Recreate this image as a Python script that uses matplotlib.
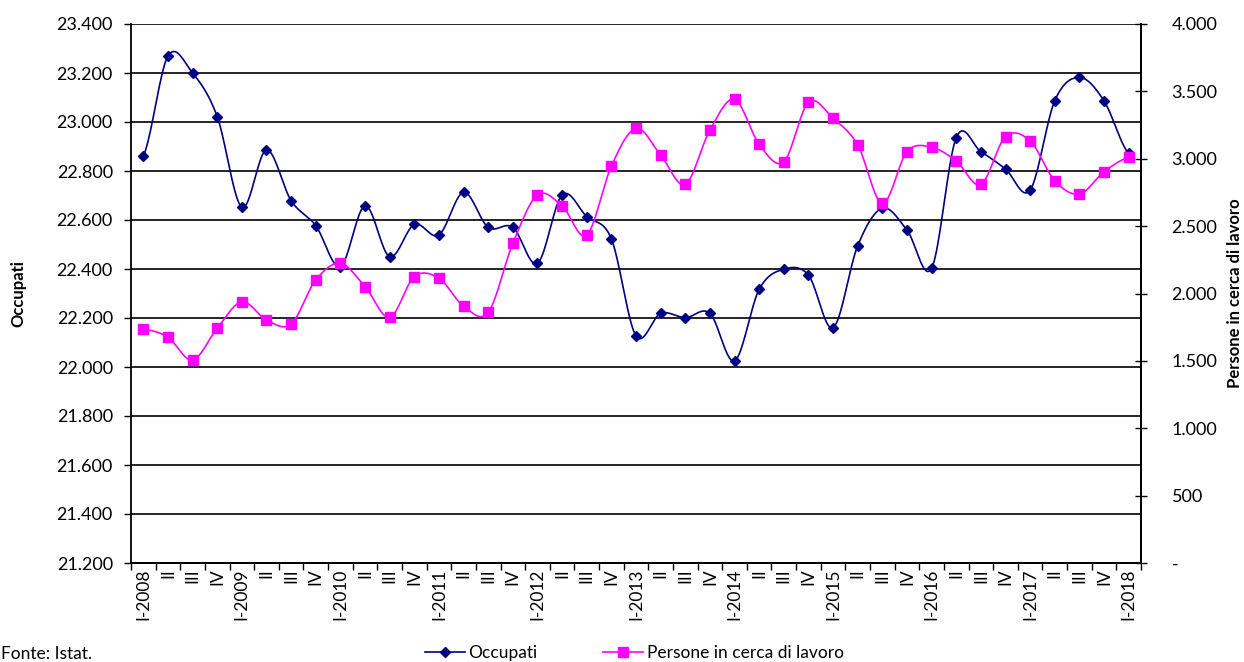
import numpy as np
import matplotlib
matplotlib.use('Agg')
import matplotlib.pyplot as plt
from matplotlib.ticker import FuncFormatter, MultipleLocator
from matplotlib.lines import Line2D

plt.rcParams['font.family'] = ['Lato', 'DejaVu Sans']

# Trimestri I-2008 ... I-2018
trimestri = []
for anno in range(2008, 2018):
    trimestri += [f'I-{anno}', 'II', 'III', 'IV']
trimestri.append('I-2018')

# Occupati (migliaia)
occupati = [22862, 23269, 23200, 23022, 22652, 22886, 22679, 22577,
            22410, 22658, 22450, 22582, 22539, 22713, 22570, 22570,
            22423, 22702, 22614, 22523, 22127, 22219, 22201, 22219,
            22025, 22317, 22399, 22375, 22160, 22495, 22648, 22559,
            22403, 22936, 22879, 22808, 22722, 23087, 23182, 23086,
            22872]

# Persone in cerca di lavoro (migliaia)
disoccupati = [1737, 1675, 1506, 1742, 1939, 1803, 1774, 2100,
               2224, 2051, 1823, 2125, 2113, 1907, 1860, 2372,
               2731, 2649, 2434, 2946, 3226, 3028, 2810, 3213,
               3441, 3107, 2978, 3419, 3300, 3102, 2669, 3052,
               3085, 2983, 2810, 3164, 3132, 2837, 2738, 2904,
               3010]


def smooth(y, n=20):
    # curva tipo Excel (Catmull-Rom)
    y = np.asarray(y, dtype=float)
    p = np.concatenate([[y[0]], y, [y[-1]]])
    xs, ys = [], []
    for i in range(len(y) - 1):
        p0, p1, p2, p3 = p[i], p[i + 1], p[i + 2], p[i + 3]
        t = np.linspace(0, 1, n, endpoint=False)
        yy = 0.5 * ((2 * p1) + (-p0 + p2) * t + (2 * p0 - 5 * p1 + 4 * p2 - p3) * t ** 2
                    + (-p0 + 3 * p1 - 3 * p2 + p3) * t ** 3)
        xs.append(i + t)
        ys.append(yy)
    xs.append([len(y) - 1])
    ys.append([y[-1]])
    return np.concatenate(xs), np.concatenate(ys)


def fmt_it(v, pos):
    if abs(v) < 1e-9:
        return '-'
    return f'{v:,.0f}'.replace(',', '.')


navy = '#000080'
pink = '#FF00FF'

fig = plt.figure(figsize=(12.44, 6.62), dpi=100)
ax = fig.add_axes([131 / 1244, 1 - 563 / 662, 1010 / 1244, 539 / 662])
ax2 = ax.twinx()

x = np.arange(len(trimestri))

sx, sy = smooth(occupati)
ax.plot(sx, sy, color=navy, lw=1.2, zorder=3)
ax.plot(x, occupati, ls='none', marker='D', ms=5.5, color=navy, zorder=4)

sx2, sy2 = smooth(disoccupati)
ax2.plot(sx2, sy2, color=pink, lw=1.2, zorder=3)
ax2.plot(x, disoccupati, ls='none', marker='s', ms=7.5, color=pink, zorder=4)

ax.set_xlim(-0.5, len(trimestri) - 0.5)
ax.set_ylim(21200, 23400)
ax2.set_ylim(0, 4000)
ax.yaxis.set_major_locator(MultipleLocator(200))
ax2.yaxis.set_major_locator(MultipleLocator(500))
ax.yaxis.set_major_formatter(FuncFormatter(fmt_it))
ax2.yaxis.set_major_formatter(FuncFormatter(fmt_it))
ax.grid(axis='y', color='black', lw=1.2)
ax.set_axisbelow(True)

ax.set_xticks(x)
ax.set_xticklabels(trimestri, rotation=90, fontsize=12.5)
ax.set_xticks(np.arange(len(trimestri) + 1) - 0.5, minor=True)
ax.tick_params(axis='x', which='major', length=0, pad=4)
ax.tick_params(axis='x', which='minor', length=5, direction='out', width=1)
ax.tick_params(axis='y', labelsize=13, length=5, width=1, pad=8)
ax2.tick_params(axis='y', labelsize=13, length=8, width=1, direction='inout', pad=18)

for a in (ax, ax2):
    a.spines['top'].set_visible(False)
    for s in ('left', 'right', 'bottom'):
        a.spines[s].set_linewidth(1.3)
ax2.spines['left'].set_visible(False)
ax2.patch.set_visible(False)

ax.set_ylabel('Occupati', fontsize=12, fontweight='bold', labelpad=22)
ax2.set_ylabel('Persone in cerca di lavoro', fontsize=12, fontweight='bold', labelpad=7)

fig.text(0.001, 0.0, 'Fonte: Istat.', fontsize=12.5, ha='left', va='bottom')

handles = [Line2D([], [], color=navy, lw=1.2, marker='D', ms=5.5),
           Line2D([], [], color=pink, lw=1.2, marker='s', ms=7.5)]
fig.legend(handles, ['Occupati', 'Persone in cerca di lavoro'], loc='lower center',
           bbox_to_anchor=(0.51, -0.022), ncol=2, frameon=False, fontsize=12.5,
           handlelength=2.3, columnspacing=3.8, handletextpad=0.2)

fig.savefig('out.png', dpi=100)
